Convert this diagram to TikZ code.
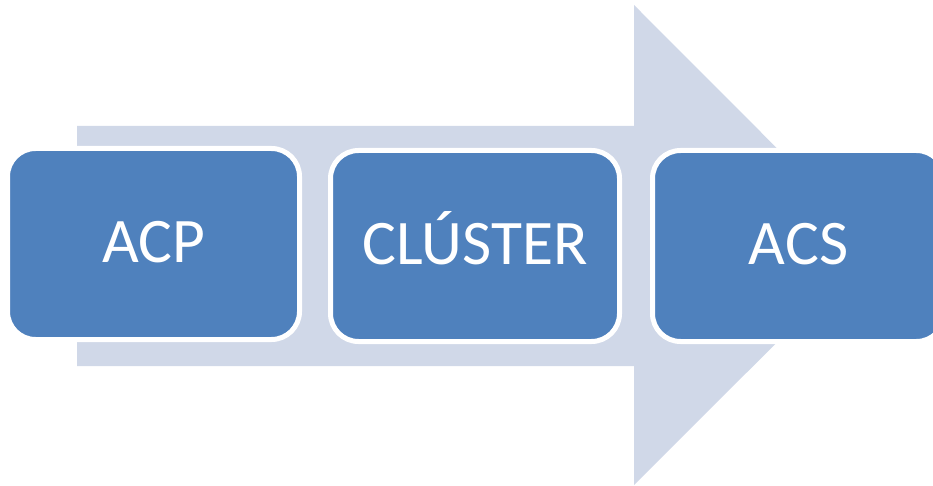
\documentclass[tikz,border=0pt]{standalone}
\usepackage{fontspec}
\setmainfont{Carlito}
\definecolor{stepblue}{HTML}{4F81BD}
\definecolor{flowgray}{RGB}{208,216,232}
\begin{document}
\begin{tikzpicture}[x=1pt,y=-1pt,
  stagebox/.style={rectangle, rounded corners=28pt, fill=stepblue, draw=white,
    line width=5pt, inner sep=0pt, outer sep=0pt, minimum height=191pt,
    text height=40.6pt, text depth=4pt,
    text=white, font=\fontsize{63.5}{70}\selectfont}]
  \useasboundingbox (0,0) rectangle (933,486);
  % wide process arrow behind the stages
  \fill[flowgray] (77,126) -- (634,126) -- (634,5) -- (874,245.5)
    -- (634,485) -- (634,366) -- (77,366) -- cycle;
  % stages (the last one runs past the right edge of the page)
  \node[stagebox, minimum width=292pt] (acp) at (153.5,244) {ACP};
  \node[stagebox, minimum width=289pt] (cluster) at (475,246) {CLÚSTER};
  \node[stagebox, minimum width=292pt] (acs) at (798.5,246) {ACS};
\end{tikzpicture}
\end{document}
